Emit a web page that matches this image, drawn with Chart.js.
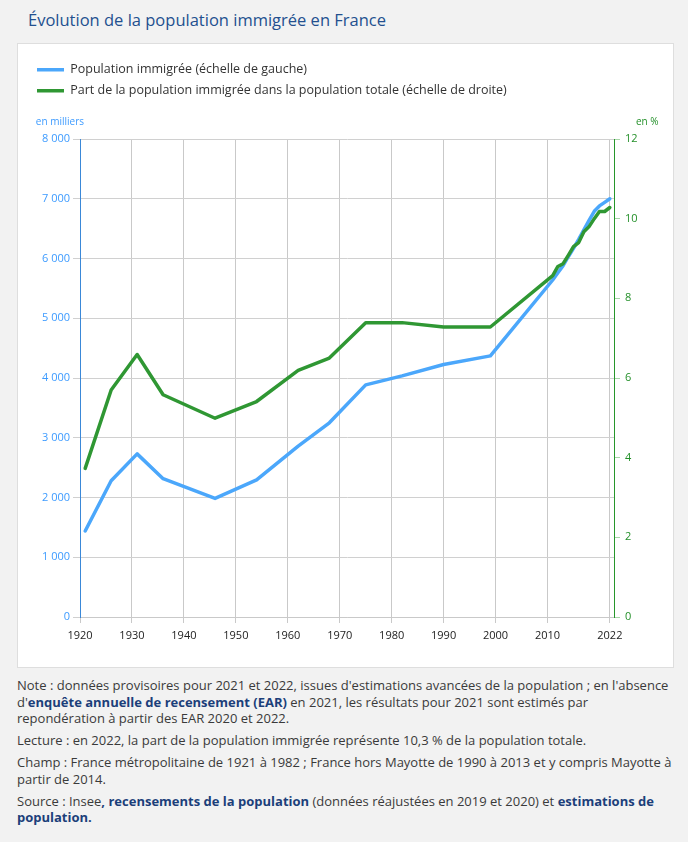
<!DOCTYPE html>
<html lang="fr">
<head>
<meta charset="utf-8">
<title>Évolution de la population immigrée en France</title>
<script src="https://cdn.jsdelivr.net/npm/chart.js@4/dist/chart.umd.min.js"></script>
<style>
  body { margin: 0; background: #f2f2f2; font-family: 'Open Sans', sans-serif; width: 688px; height: 842px; position: relative; }
  .titre { position: absolute; left: 28px; top: 8px; margin: 0; font-size: 16.5px; font-weight: 500; color: #23508f; }
  .cadre { position: absolute; left: 17px; top: 43px; width: 655px; height: 623px; background: #fff; border: 1px solid #dedede; }
  .notes { position: absolute; left: 17px; top: 677px; width: 657px; font-size: 13px; line-height: 16.5px; color: #3a3a3a; }
  .notes p { margin: 0 0 5.5px 0; }
  .notes b { color: #1c3f7a; }
</style>
</head>
<body>
<h1 class="titre">Évolution de la population immigrée en France</h1>
<div class="cadre"><canvas id="graphique" width="655" height="623"></canvas></div>
<div class="notes">
  <p>Note : données provisoires pour 2021 et 2022, issues d'estimations avancées de la population ; en l'absence d'<b>enquête annuelle de recensement (EAR)</b> en 2021, les résultats pour 2021 sont estimés par repondération à partir des EAR 2020 et 2022.</p>
  <p>Lecture : en 2022, la part de la population immigrée représente 10,3 % de la population totale.</p>
  <p>Champ : France métropolitaine de 1921 à 1982 ; France hors Mayotte de 1990 à 2013 et y compris Mayotte à partir de 2014.</p>
  <p>Source : Insee<b>, recensements de la population</b> (données réajustées en 2019 et 2020) et <b>estimations de population.</b></p>
</div>
<script>
// années des points (recensements puis annuel)
const annees = [1921, 1926, 1931, 1936, 1946, 1954, 1962, 1968, 1975, 1982, 1990, 1999,
     2011, 2012, 2013, 2014, 2015, 2016, 2017, 2018, 2019, 2020, 2021, 2022]

// population immigrée, en milliers (échelle de gauche)
const immigres = [1440, 2280, 2730, 2315, 1985, 2295, 2860, 3250, 3885, 4035, 4225, 4370,
     5640, 5760, 5880, 6030, 6170, 6320, 6480, 6640, 6790, 6880, 6940, 7000]

// part dans la population totale, en % (échelle de droite)
const part = [3.73, 5.7, 6.59, 5.58, 4.99, 5.41, 6.19, 6.5, 7.39, 7.39, 7.28, 7.28,
     8.57, 8.8, 8.87, 9.08, 9.3, 9.4, 9.67, 9.8, 10.0, 10.18, 10.18, 10.28]

// graduations de l'axe des années
const graduationsX = [1920, 1930, 1940, 1950, 1960, 1970, 1980, 1990, 2000, 2010, 2022]

const legendes = [
     'Population immigrée (échelle de gauche)',
     'Part de la population immigrée dans la population totale (échelle de droite)'
]

const bleu = '#4ba7fb'
const vert = '#2f9733'

Chart.defaults.font.family = "'Open Sans', sans-serif"
Chart.defaults.font.size = 11

// milliers séparés par une espace : 8 000
const enMilliers = v => String(v).replace(/\B(?=(\d{3})+(?!\d))/g, ' ')

// les petits titres "en milliers" et "en %" au-dessus des axes
const titresAxes = {
     id: 'titresAxes',
     afterDraw(chart) {
          const { ctx, chartArea } = chart
          ctx.save()
          ctx.font = "10px 'Open Sans', sans-serif"
          ctx.textBaseline = 'middle'
          ctx.fillStyle = '#3d9bff'
          ctx.textAlign = 'right'
          ctx.fillText('en milliers', chartArea.left + 4, chartArea.top - 17)
          ctx.fillStyle = '#24902a'
          ctx.textAlign = 'left'
          ctx.fillText('en %', chartArea.right + 22, chartArea.top - 17)
          ctx.restore()
     }
}

const graphique = new Chart(document.getElementById('graphique'), {
     type: 'line',
     data: {
          datasets: [{
               label: legendes[0],
               data: annees.map((a, i) => ({ x: a, y: immigres[i] })),
               borderColor: bleu,
               backgroundColor: bleu,
               borderWidth: 3.5,
               yAxisID: 'y',
               order: 1
          }, {
               label: legendes[1],
               data: annees.map((a, i) => ({ x: a, y: part[i] })),
               borderColor: vert,
               backgroundColor: vert,
               borderWidth: 3.5,
               yAxisID: 'y1',
               order: 0
          }]
     },
     options: {
          responsive: false,
          animation: false,
          elements: {
               point: { radius: 0, hoverRadius: 0 },
               line: { tension: 0, borderCapStyle: 'round', borderJoinStyle: 'round' }
          },
          layout: { padding: { left: 10.5, top: 11, right: 0, bottom: 0 } },
          plugins: {
               legend: {
                    position: 'top',
                    align: 'start',
                    weight: 1000,
                    labels: {
                         usePointStyle: true,
                         pointStyle: 'line',
                         pointStyleWidth: 27,
                         padding: 8.5,
                         color: '#333',
                         font: { size: 12.5 },
                         sort: (a, b) => a.datasetIndex - b.datasetIndex
                    }
               },
               // espace vide entre la légende et le graphique
               title: {
                    display: true,
                    text: ' ',
                    weight: 500,
                    font: { size: 10, lineHeight: 1.2 },
                    padding: { top: 0, bottom: 20 }
               },
               tooltip: { enabled: false }
          },
          scales: {
               x: {
                    type: 'linear',
                    min: 1920,
                    max: 2022.8,
                    afterBuildTicks: axe => { axe.ticks = graduationsX.map(v => ({ value: v })) },
                    afterFit: axe => { axe.height = 50 },
                    ticks: {
                         autoSkip: false,
                         maxRotation: 0,
                         color: '#222',
                         padding: 6,
                         callback: v => String(v)
                    },
                    grid: { color: '#c9c9c9', tickColor: '#c9c9c9', tickLength: 6 },
                    border: { color: '#c9c9c9' }
               },
               y: {
                    position: 'left',
                    min: 0,
                    max: 8000,
                    afterFit: axe => { axe.width = 51.5 },
                    ticks: { stepSize: 1000, color: '#3d9bff', padding: 3, callback: v => enMilliers(v) },
                    grid: { color: '#d0d0d0', tickColor: '#d0d0d0', tickLength: 7 },
                    border: { color: '#3a88d8' }
               },
               y1: {
                    position: 'right',
                    min: 0,
                    max: 12,
                    afterFit: axe => { axe.width = 59 },
                    ticks: { stepSize: 2, color: '#24902a', padding: 5 },
                    grid: { drawOnChartArea: false, tickColor: '#a8d6a8', tickLength: 6 },
                    border: { color: '#27962b' }
               }
          }
     },
     plugins: [titresAxes]
})
</script>
</body>
</html>
